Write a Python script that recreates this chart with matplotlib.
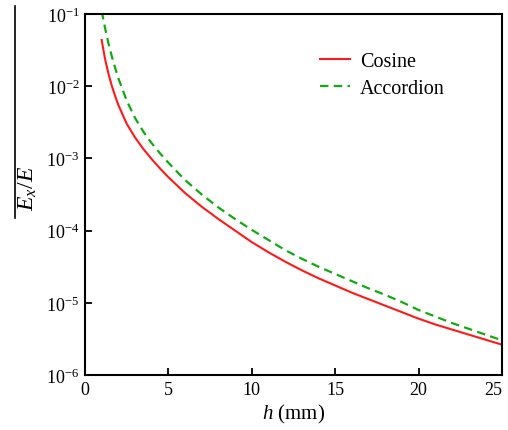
import numpy as np
import matplotlib
matplotlib.use('Agg')
import matplotlib.pyplot as plt
from matplotlib.lines import Line2D

plt.rcParams['font.family'] = ['Liberation Serif', 'DejaVu Serif']
plt.rcParams['mathtext.fontset'] = 'custom'
plt.rcParams['mathtext.rm'] = 'Liberation Serif'
plt.rcParams['mathtext.it'] = 'Liberation Serif:italic'

# Datos (log10 de Ex/E)
h_mm = [1.0, 1.2, 1.4, 1.6, 1.8, 2.0, 2.5, 3.0, 3.5, 4.0, 4.5, 5.0, 6.0, 7.0, 8.0,
        9.0, 10, 11, 12, 13, 14, 15, 16, 17, 18, 19, 20, 21, 22, 23, 24, 25]
log_cosine = [-1.36, -1.62, -1.82, -1.99, -2.13, -2.26, -2.52, -2.71, -2.87, -3.01,
              -3.14, -3.26, -3.48, -3.67, -3.84, -4.00, -4.16, -4.30, -4.43, -4.55,
              -4.66, -4.76, -4.86, -4.95, -5.04, -5.13, -5.22, -5.30, -5.37, -5.44,
              -5.51, -5.58]
log_accordion = [-0.96, -1.19, -1.40, -1.58, -1.74, -1.89, -2.20, -2.44, -2.63, -2.79,
                 -2.93, -3.06, -3.30, -3.50, -3.68, -3.84, -3.99, -4.13, -4.27, -4.39,
                 -4.50, -4.60, -4.70, -4.80, -4.89, -4.99, -5.10, -5.19, -5.28, -5.36,
                 -5.44, -5.52]

y_ticks = [1e-6, 1e-5, 1e-4, 1e-3, 1e-2, 1e-1]
y_tick_labels = [r'$10^{-6}$', r'$10^{-5}$', r'$10^{-4}$', r'$10^{-3}$', r'$10^{-2}$', r'$10^{-1}$']
x_ticks = [0, 5, 10, 15, 20, 25]

fig = plt.figure(figsize=(5.08, 4.31), dpi=100)
ax = fig.add_axes([0.1673, 0.1276, 0.8209, 0.8376])

ax.plot(h_mm, 10 ** np.array(log_cosine), color='#ff1a1a', lw=1.5, label='Cosine')
ax.plot(h_mm, 10 ** np.array(log_accordion), color='#11aa11', lw=1.6,
        ls=(0, (3.8, 2.4)), label='Accordion')

ax.set_yscale('log')
ax.set_xlim(0, 25)
ax.set_ylim(1e-6, 1e-1)
ax.set_yticks(y_ticks)
ax.set_yticklabels(y_tick_labels)
ax.yaxis.set_minor_locator(plt.NullLocator())
ax.set_xticks(x_ticks)
ax.tick_params(direction='in', length=5, width=1.3, labelsize=13, pad=4)
ax.get_xticklabels()[-1].set_horizontalalignment('right')
ax.get_xticklabels()[-1].set_x(25.4)

for s in ax.spines.values():
    s.set_linewidth(1.5)

ax.set_xlabel(r'$h$ (mm)', fontsize=15, labelpad=3)
ax.set_ylabel(r'$E_x/E$', fontsize=17, labelpad=9)
ax.yaxis.set_label_coords(-0.11, 0.52)

ax.legend(loc='upper left', bbox_to_anchor=(0.52, 0.944), frameon=False,
          fontsize=14.5, handlelength=1.5, handletextpad=0.5, labelspacing=0.35)

# línea vertical junto a la etiqueta del eje y
fig.add_artist(Line2D([15 / 508, 15 / 508], [1 - 7 / 431, 1 - 219 / 431],
                      color='black', lw=1.2))

fig.savefig('out.png', dpi=100)
